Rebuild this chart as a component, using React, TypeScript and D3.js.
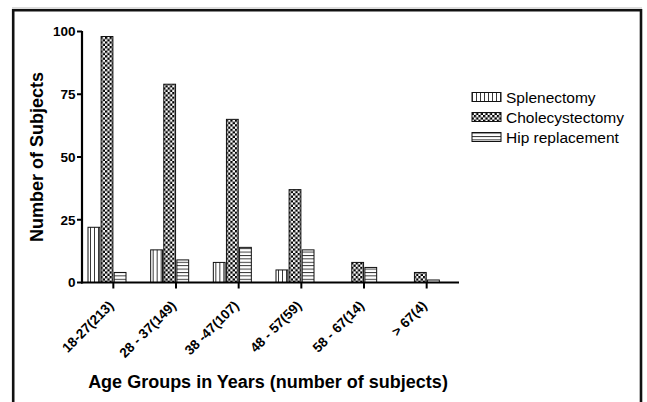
import React from "react";
import * as d3 from "d3";

const categories = ["18-27(213)", "28 - 37(149)", "38 -47(107)", "48 - 57(59)", "58 - 67(14)", "> 67(4)"];
const seriesNames = ["Splenectomy", "Cholecystectomy", "Hip replacement"];
const splenectomy = [22, 13, 8, 5, 0, 0];
const cholecystectomy = [98, 79, 65, 37, 8, 4];
const hipReplacement = [4, 9, 14, 13, 6, 1];
const yTicks = [0, 25, 50, 75, 100];

const seriesValues = [splenectomy, cholecystectomy, hipReplacement];
const patternIds = ["pat-vert", "pat-check", "pat-horiz"];

const W = 647;
const H = 402;
const FONT = "'Liberation Sans', Arial, Helvetica, sans-serif";

export default function App() {
  const x = d3.scaleBand<string>().domain(categories).range([82, 458]).padding(0);
  const inner = d3.scaleBand<string>().domain(seriesNames).range([6, 44]).paddingInner(0.1);
  const y = d3.scaleLinear().domain([0, 100]).range([282.5, 31.5]);

  return (
    <svg width={W} height={H} style={{ position: "absolute", left: 0, top: 0, background: "#fff" }} fontFamily={FONT}>
      <defs>
        <pattern id="pat-vert" patternUnits="userSpaceOnUse" width={4} height={4}>
          <rect width={4} height={4} fill="#fff" />
          <line x1={0.5} y1={0} x2={0.5} y2={4} stroke="#222" strokeWidth={0.9} />
        </pattern>
        <pattern id="pat-check" patternUnits="userSpaceOnUse" width={4.6} height={4.6}>
          <rect width={4.6} height={4.6} fill="#fff" />
          <rect x={0} y={0} width={2.3} height={2.3} fill="#000" />
          <rect x={2.3} y={2.3} width={2.3} height={2.3} fill="#000" />
        </pattern>
        <pattern id="pat-horiz" patternUnits="userSpaceOnUse" width={4} height={3.4}>
          <rect width={4} height={3.4} fill="#fff" />
          <line x1={0} y1={0.5} x2={4} y2={0.5} stroke="#222" strokeWidth={0.9} />
        </pattern>
      </defs>

      {/* frame */}
      <line x1={12} y1={8} x2={642} y2={8} stroke="#bbb" strokeWidth={1} />
      <path d={`M13.2,${H + 5} L13.2,10.2 L641,10.2 L641,${H + 5}`} fill="none" stroke="#111" strokeWidth={2.6} />

      {/* bars */}
      {categories.map((c, i) => (
        <g key={c} transform={`translate(${x(c)},0)`}>
          {seriesNames.map((s, j) => {
            const v = seriesValues[j][i];
            if (v <= 0) return null;
            const y0 = y(v);
            return (
              <rect
                key={s}
                x={inner(s)}
                y={y0}
                width={inner.bandwidth()}
                height={y(0) - y0}
                fill={`url(#${patternIds[j]})`}
                stroke="#111"
                strokeWidth={1}
              />
            );
          })}
        </g>
      ))}

      {/* y axis */}
      <line x1={82} y1={y(100) - 0.5} x2={82} y2={y(0) + 1} stroke="#000" strokeWidth={2.2} />
      {yTicks.map((t) => (
        <g key={t}>
          <line x1={77} x2={82} y1={y(t)} y2={y(t)} stroke="#000" strokeWidth={2} />
          <text x={75.5} y={y(t)} dy="0.36em" textAnchor="end" fontSize={13.5} fontWeight="bold">
            {t}
          </text>
        </g>
      ))}

      {/* x axis */}
      <line x1={81} y1={y(0)} x2={459} y2={y(0)} stroke="#000" strokeWidth={2.2} />
      {categories.map((c) => {
        const cx = (x(c) as number) + x.bandwidth() / 2;
        return (
          <g key={c}>
            <line x1={cx} x2={cx} y1={y(0)} y2={y(0) + 6} stroke="#000" strokeWidth={2} />
            <text
              transform={`translate(${cx + 1},${y(0) + 24}) rotate(-45)`}
              textAnchor="end"
              fontSize={13.5}
              fontWeight="bold"
            >
              {c}
            </text>
          </g>
        );
      })}

      {/* axis titles */}
      <text
        transform={`translate(43,${(y(0) + y(100)) / 2}) rotate(-90)`}
        textAnchor="middle"
        fontSize={18}
        fontWeight="bold"
      >
        Number of Subjects
      </text>
      <text x={268} y={388} textAnchor="middle" fontSize={18} fontWeight="bold">
        Age Groups in Years (number of subjects)
      </text>

      {/* legend */}
      {seriesNames.map((s, j) => {
        const ly = 97 + j * 20;
        return (
          <g key={s}>
            <rect x={472} y={ly - 4.5} width={29} height={9} fill={`url(#${patternIds[j]})`} stroke="#111" strokeWidth={1} />
            <text x={506} y={ly} dy="0.36em" fontSize={15.5}>
              {s}
            </text>
          </g>
        );
      })}
    </svg>
  );
}
